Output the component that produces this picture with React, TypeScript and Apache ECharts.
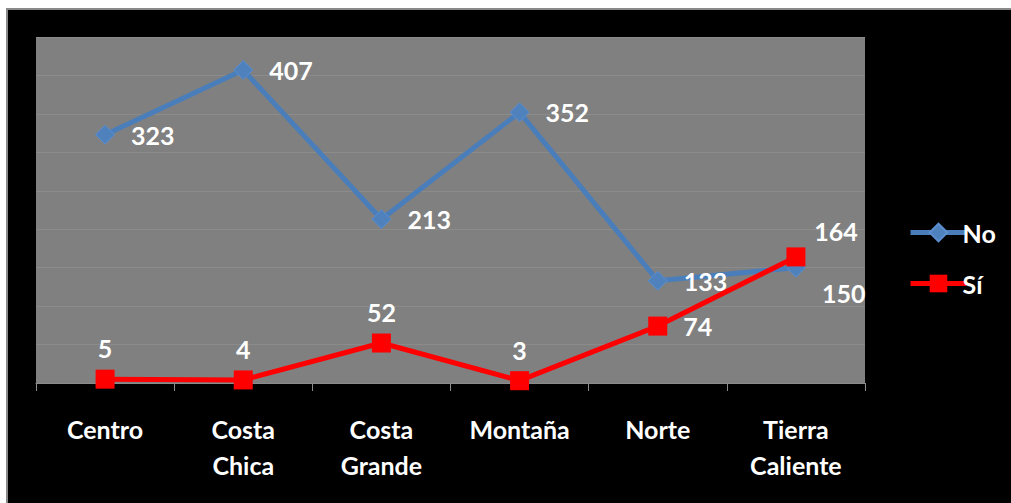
import React, { useEffect, useRef } from "react";
import * as echarts from "echarts";

const categories = ["Centro", "Costa Chica", "Costa Grande", "Montaña", "Norte", "Tierra Caliente"];
const noValues = [323, 407, 213, 352, 133, 150];
const siValues = [5, 4, 52, 3, 74, 164];
const seriesNames = ["No", "Sí"];

const FONT = "Lato, 'Open Sans', sans-serif";

export default function App() {
  const ref = useRef<HTMLDivElement>(null);
  useEffect(() => {
    if (!ref.current) return;
    const chart = echarts.init(ref.current, undefined, { renderer: "svg" });
    const labelBase = { show: true, color: "#ffffff", fontFamily: FONT, fontWeight: "bold" as const, fontSize: 25 };
    chart.setOption({
      animation: false,
      backgroundColor: "#000000",
      grid: {
        left: 28,
        top: 27,
        width: 829,
        height: 346,
        show: true,
        backgroundColor: "#808080",
        borderWidth: 0,
        containLabel: false,
      },
      legend: {
        orient: "vertical",
        left: 895,
        top: 205,
        itemWidth: 56,
        itemHeight: 22,
        itemGap: 26,
        lineStyle: { width: 5 },
        textStyle: { color: "#ffffff", fontFamily: FONT, fontWeight: "bold", fontSize: 25, padding: [0, 0, 0, -9] },
        data: seriesNames,
      },
      xAxis: {
        type: "category",
        data: categories,
        boundaryGap: true,
        axisLine: { show: true, lineStyle: { color: "#8c8c8c", width: 1 } },
        axisTick: { show: true, length: 8, lineStyle: { color: "#8c8c8c" } },
        axisLabel: {
          interval: 0,
          color: "#ffffff",
          fontFamily: FONT,
          fontWeight: "bold",
          fontSize: 25,
          lineHeight: 36,
          margin: 28,
          formatter: (v: string) => v.replace(" ", "\n"),
        },
        splitLine: { show: false },
      },
      yAxis: {
        type: "value",
        min: 0,
        max: 450,
        interval: 50,
        axisLabel: { show: false },
        axisLine: { show: false },
        axisTick: { show: false },
        splitLine: { show: true, lineStyle: { color: "#8b8b8b", width: 1 } },
      },
      series: [
        {
          name: seriesNames[0],
          type: "line",
          data: noValues.map((v, i) =>
            i === 5 ? { value: v, label: { offset: [0, 25] } } : v
          ),
          symbol: "diamond",
          symbolSize: 19,
          lineStyle: { color: "#4a7ebb", width: 5 },
          itemStyle: { color: "#4f81bd", borderColor: "#5b8fd0", borderWidth: 1 },
          label: { ...labelBase, position: "right", distance: 16 },
          z: 2,
        },
        {
          name: seriesNames[1],
          type: "line",
          data: siValues.map((v, i) =>
            i === 4
              ? { value: v, label: { position: "right", distance: 16 } }
              : i === 5
              ? { value: v, label: { offset: [40, 5] } }
              : v
          ),
          symbol: "rect",
          symbolSize: 19,
          lineStyle: { color: "#ff0000", width: 5 },
          itemStyle: { color: "#ff0000" },
          label: { ...labelBase, position: "top", distance: 9 },
          z: 3,
        },
      ],
    });
    return () => chart.dispose();
  }, []);
  return (
    <div
      style={{
        position: "fixed",
        left: 6,
        top: 8,
        width: 1005,
        height: 495,
        borderLeft: "2px solid #898989",
        borderTop: "2px solid #898989",
        background: "#000",
      }}
    >
      <div ref={ref} style={{ width: 1005, height: 495 }} />
    </div>
  );
}
